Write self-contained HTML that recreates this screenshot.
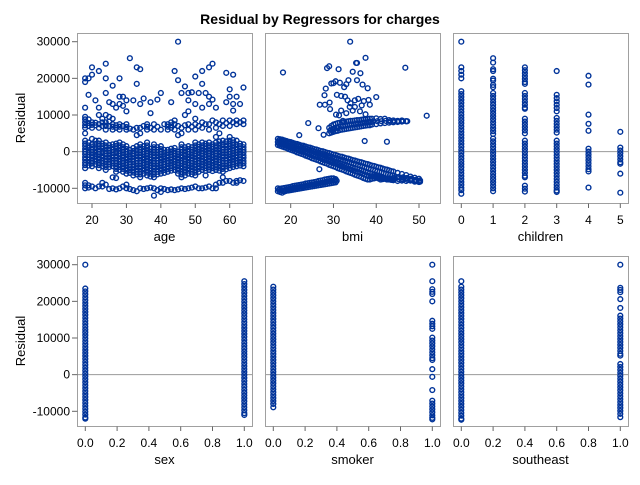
<!DOCTYPE html>
<html><head><meta charset="utf-8"><style>
body{margin:0;background:#fff;width:640px;height:480px;overflow:hidden}
svg text{font-family:"Liberation Sans",sans-serif;fill:#000}
</style></head><body>
<svg id="c" width="640" height="480" xmlns="http://www.w3.org/2000/svg">
<text x="320" y="24" text-anchor="middle" font-size="14" font-weight="bold">Residual by Regressors for charges</text>
</svg>
<script>
// residuals in thousands
const yTicks=[30,20,10,0,-10];
const yTickLabels=["30000","20000","10000","0","-10000"];
const ageTicks=[20,30,40,50,60];
const bmiTicks=[20,30,40,50];
const childTicks=[0,1,2,3,4,5];
const binTicks=[0,0.2,0.4,0.6,0.8,1.0];
const binTickLabels=["0.0","0.2","0.4","0.6","0.8","1.0"];
const ageData={
18:[-4.5,-3.7,-3,-2.2,-1.5,-0.7,0,0.7,1.5,2.2,3,5,6.5,7.2,8,8.8,9.5,-8.5,-9.2,-10,12,19,20],
19:[-3.8,-3,-2.2,-1.5,-0.8,0,1,1.7,2.5,7,7.8,8.8,-9.2,-9.8,20,15.5],
20:[-4,-3.2,-2.5,-1.7,-1,-0.2,0.5,1.2,2,3.5,6.5,7.3,8,-9.5,23,21],
21:[-3.5,-2.7,-2,-1.2,-0.3,0.4,1.2,2.1,3,7.2,7.9,-10,14],
22:[-4.5,-3.7,-3,-2.2,-1.5,-0.7,0,0.7,1.5,2.2,3,6.5,7.5,10,-9.5,22,12],
23:[-4,-3.2,-2.5,-1.7,-1,-0.1,0.8,1.5,2.2,7,8,9,-8.5,-9.5],
24:[-5,-4.2,-3.5,-2.7,-2,-1.2,-0.5,0.2,1,1.7,2.5,6,7,8,10,-9,24,16,20],
25:[-4.2,-3.5,-2.8,-2,-1.2,-0.4,0.3,1,1.8,7,8.2,9.5,-10.2,13.5],
26:[-4,-3.2,-2.5,-1.7,-1,-0.2,0.5,1.2,2,6,6.8,7.5,9,-10,-7,18,13],
27:[-5.5,-4.7,-4,-3.2,-2.5,-1.7,-1,-0.1,0.8,1.5,2.2,6.5,7.2,-10.3,12,-7.2],
28:[-5,-4.2,-3.5,-2.7,-2,-1.2,-0.5,0.2,1,1.7,2.5,6,6.8,7.5,-10,20,15,13],
29:[-5.5,-4.7,-4,-3.2,-2.5,-1.7,-1,-0.2,0.5,1.2,2,7,-9.5,12.5,15],
30:[-6,-5.2,-4.5,-3.7,-3,-2.2,-1.5,-0.7,0,0.7,1.5,6,6.7,7.5,-10,-9,11,14],
31:[-5.8,-5,-4.2,-3.5,-2.8,-2,-1.2,-0.3,0.5,6.3,-10.2,25.5],
32:[-6.5,-5.7,-5,-4.2,-3.5,-2.7,-2,-1.2,-0.5,0.2,1,6,-10.5,14],
33:[-6.2,-5.5,-4.8,-4,-3.2,-2.5,-1.8,-1,-0.2,0.6,1.5,4.5,6.5,-10.8,23,18.5],
34:[-7,-6.2,-5.5,-4.7,-4,-3.2,-2.5,-1.7,-1,-0.2,0.5,1.2,2,5,6.5,-10,22.5,13],
35:[-6,-5.2,-4.5,-3.7,-3,-2.2,-1.5,-0.7,0,0.7,1.5,7,-10.2,14.5],
36:[-6.5,-5.7,-5,-4.2,-3.5,-2.7,-2,-1.2,-0.5,0.2,1,1.7,2.5,6,6.8,7.5,-10],
37:[-6.8,-6,-5.2,-4.5,-3.8,-3,-2.2,-1.5,-0.8,0,0.8,6.5,10.5,13.5,-9.8],
38:[-7,-6.2,-5.5,-4.7,-4,-3.2,-2.5,-1.7,-1,-0.2,0.5,1.2,2,6,-12,-10,7.5],
39:[-6.2,-5.5,-4.8,-4,-3.2,-2.5,-1.8,-1,-0.2,0.5,1.2,6.8,14.2,-10.5],
40:[-6,-5.2,-4.5,-3.7,-3,-2.2,-1.5,-0.7,0,0.7,1.5,6,-10,-11,16],
41:[-5.8,-5,-4.2,-3.5,-2.8,-2,-1.2,-0.3,0.5,7.5,-10.2],
42:[-5.5,-4.7,-4,-3.2,-2.5,-1.7,-1,-0.2,0.5,6,6.8,7.5,-10.5],
43:[-5.2,-4.5,-3.8,-3,-2.2,-1.5,-0.8,0,0.8,6.5,7.2,8,-10.3,13.5],
44:[-5,-4.2,-3.5,-2.7,-2,-1.2,-0.5,0.2,1,6,7.5,8.5,-10.5,22],
45:[-6,-5.2,-4.5,-3.7,-3,-2.2,-1.5,-0.7,0,4.5,7,30,19.5,-10.3],
46:[-7,-6.2,-5.5,-4.7,-4,-3.2,-2.5,-1.7,-1,-0.2,0.5,1.2,2,5,6.5,-10,16],
47:[-6.5,-5.7,-5,-4.2,-3.5,-2.7,-2,-1.1,-0.3,0.4,1.2,7.2,17.8,-10.2,10],
48:[-6,-5.2,-4.5,-3.7,-3,-2.2,-1.5,-0.7,0,0.7,1.5,6,7.5,-10,11,14,16],
49:[-6.2,-5.5,-4.8,-4,-3.2,-2.5,-1.8,-1,-0.2,0.5,1.2,6.8,16.2,-9.8],
50:[-6.5,-5.7,-5,-4.2,-3.5,-2.7,-2,-1.2,-0.5,0.2,1,1.7,2.5,6,7.5,9,-9.5,20.5,13],
51:[-5.5,-4.7,-4,-3.2,-2.5,-1.7,-1,-0.2,0.6,1.3,2,7,-10,16],
52:[-5,-4.2,-3.5,-2.7,-2,-1.2,-0.5,0.2,1,1.7,2.5,6.5,8,-10,22,18.5,12],
53:[-5.2,-4.5,-3.8,-3,-2.2,-1.5,-0.8,0,0.8,1.5,2.2,7.5,-9.8,16,-6.5],
54:[-5,-4.2,-3.5,-2.7,-2,-1.2,-0.5,0.2,1,1.7,2.5,6,7.5,-9.5,23,15,13],
55:[-5.3,-4.5,-3.8,-3,-2.3,-1.5,-0.8,0,0.8,1.4,2,8.5,-10,24,14.2],
56:[-5,-4.2,-3.5,-2.7,-2,-1.2,-0.5,0.2,1,1.7,2.5,4,6.5,8,-10,-9,12],
57:[-5.2,-4.4,-3.6,-2.9,-2.2,-1.4,-0.6,0.2,1,1.9,2.8,7.5,-8.5,5],
58:[-5.5,-4.7,-4,-3.2,-2.5,-1.7,-1,-0.2,0.5,1.2,2,3,7,8.5,-7,-8.5],
59:[-4.8,-4,-3.2,-2.5,-1.8,-1,-0.2,0.5,1.3,2,2.8,7.8,-8,13.5,21.5],
60:[-4.5,-3.7,-3,-2.2,-1.5,-0.7,0,0.7,1.5,2.2,3,4,7,8.5,-8,17,15],
61:[-4.2,-3.5,-2.8,-2,-1.2,-0.4,0.3,1,1.8,2.5,3.2,8,-8.5,21,13,11.2],
62:[-4,-3.2,-2.5,-1.7,-1,-0.2,0.5,1.2,2,3,7.5,8.5,-8,-8.5,15],
63:[-3.8,-3,-2.2,-1.5,-0.8,0,0.8,1.5,2.2,8,-7.8,13],
64:[-4,-3.2,-2.5,-1.7,-1,-0.2,0.5,1.2,2,7.5,8.5,-8,17.5]};
const bmiX=[17,17.5,18,18.5,19,19.5,20,20.5,21,21.5,22,22.5,23,23.5,24,24.5,25,25.5,26,26.5,27,27.5,28,28.5,29,29.5,30,30.5,31,31.5,32,32.5,33,33.5,34,34.5,35,35.5,36,36.5,37,37.5,38,38.5,39,39.5,40,40.5,41,41.5,42,42.5,43,43.5,44,45,46,47,48,49,50];
const bmiBandHi=[3.5,3.4,3.3,3.1,2.9,2.7,2.6,2.4,2.2,2.1,1.9,1.7,1.6,1.4,1.2,1.1,0.9,0.7,0.6,0.4,0.2,0.1,-0.1,-0.3,-0.4,-0.6,-0.8,-0.9,-1.1,-1.3,-1.4,-1.6,-1.8,-1.9,-2.1,-2.3,-2.4,-2.6,-2.8,-2.9,-3.1,-3.3,-3.4,-3.6,-3.8,-3.9,-4.1,-4.3,-4.4,-4.6,-4.8,-4.9,-5.1,-5.3,-5.4,-5.8,-6.1,-6.4,-6.8,-7.1,-7.4];
const bmiBandMid=[2.6,2.5,2.3,2.1,1.9,1.7,1.5,1.3,1.1,0.9,0.7,0.5,0.3,0.1,-0.1,-0.3,-0.5,-0.7,-0.9,-1.1,-1.3,-1.5,-1.7,-1.9,-2.1,-2.3,-2.5,-2.7,-2.9,-3.1,-3.3,-3.5,-3.7,-3.9,-4.1,-4.3,-4.5,-4.7,-4.9,-5.1,-5.3,-5.5,-5.7,-5.9,-6.1,-6.3,-6.5,-6.7,-6.9,-7.1,-7.3,-7.5,-7.6,-7.7,-7.8,-8,-7.9,-8,-7.9,-8.2,-8.3];
const bmiBandLo=[1.8,1.6,1.4,1.2,1,0.7,0.5,0.3,0.1,-0.2,-0.4,-0.6,-0.8,-1.1,-1.3,-1.5,-1.8,-2,-2.2,-2.4,-2.7,-2.9,-3.1,-3.3,-3.6,-3.8,-4,-4.2,-4.5,-4.7,-4.9,-5.1,-5.4,-5.6,-5.8,-6,-6.3,-6.5,-6.7,-6.9,-7.2,-7.4,-7.6,-7.6,-7.4,-7.3,-7.1,-7.3,-7.6,-7.5,-7.4,-7.6,-7.3,-7.5,-7.2,-7,-7.4,-7.2,-7.6,-7.9,-8.1];
const bmiUpX=[29,29.5,30,30.5,31,31.5,32,32.5,33,33.5,34,34.5,35,35.5,36,36.5,37,37.5,38,38.5,39,40,41,42,43,44,45,46,47];
const bmiUpHi=[6.5,7,7.4,7.6,7.8,7.9,8,8.1,8.2,8.3,8.4,8.4,8.5,8.6,8.6,8.7,8.8,8.8,8.9,9,9,9.1,8.9,9,8.6,8.5,8.4,8.5,8.3];
const bmiUpLo=[5,5.2,5.4,5.6,5.7,5.9,6,6.1,6.2,6.3,6.4,6.5,6.6,6.7,6.8,6.9,7,7.1,7.2,7.2,7.4,7.5,7.7,7.8,7.9,8,8.1,8.2,8.3];
const bmiLowX=[17,17.5,18,18.5,19,19.5,20,20.5,21,21.5,22,22.5,23,23.5,24,24.5,25,25.5,26,26.5,27,27.5,28,28.5,29,29.5,30,30.5];
const bmiLowHi=[-10,-10.1,-10,-9.9,-9.8,-9.7,-9.6,-9.4,-9.3,-9.2,-9.1,-9,-8.9,-8.7,-8.6,-8.5,-8.4,-8.3,-8.2,-8,-7.9,-7.8,-7.6,-7.5,-7.4,-7.3,-7.3,-7.5];
const bmiLowLo=[-10.8,-11,-11.2,-10.9,-10.7,-10.6,-10.5,-10.4,-10.3,-10.2,-10.1,-10,-9.9,-9.8,-9.7,-9.6,-9.5,-9.4,-9.3,-9.2,-9.1,-9,-8.9,-8.8,-8.7,-8.6,-8.5,-8.4];
const bmiScatter=[[33.9,30],[18.2,21.6],[37.5,25.6],[46.8,22.9],[51.8,9.8],[28.5,22.8],[29,23.3],[31.2,22.5],[35.3,24.2],[35.5,24.2],[34.5,21.8],[36.3,21.4],[28.2,17.2],[29.5,18.6],[30,18.7],[30.5,19.2],[31.5,18.8],[32.5,17.6],[33,18.4],[33.5,19.5],[35.5,19.5],[36.8,18.3],[38,17.3],[40,14.9],[30.8,15.5],[31.8,15.2],[32.7,15],[33.3,14],[34,13.2],[35,14],[35.8,14.4],[36.6,12.6],[37.1,13.8],[38.2,14.1],[38.5,12.8],[26.8,12.8],[28,12.8],[29.2,11.6],[30.6,10.1],[31.3,9.9],[32.2,8.4],[33,10.5],[34.5,11.2],[35,12.2],[36.2,11],[37.5,10.2],[24.1,7.8],[26.5,6.4],[27.7,4.6],[29.8,5.8],[22,4.5],[31,6.4],[37.3,2.9],[42.5,2.7],[26.7,-4.8],[31.8,11.2],[33.8,12.2],[29.1,13.4],[27.9,15.4]];
const chX=[0,1,2,3,4,5];
const ch0=[30,23,22,21,20,16.5,15.7,14.9,14.1,13.3,12.5,11.7,10.9,10.1,9.3,8.5,7.7,6.9,6.1,5.3,4.5,3.7,2.9,2.1,1.3,0.5,-0.3,-1.1,-1.9,-2.7,-3.5,-4.3,-5.1,-5.9,-6.7,-7.5,-8.3,-9.1,-9.9,-10.5,-11.5];
const ch1=[25.5,24.3,22.5,22,19.9,19.4,18.2,17.6,16,15.2,14.4,13.6,12.8,12,11.2,10.4,9.6,8.8,8,7.2,6.4,5.6,4.8,3.6,2.8,2,1.2,0.4,-0.4,-1.2,-2,-2.8,-3.6,-4.4,-5.2,-6,-6.8,-7.6,-8.4,-9.2,-10,-10.8];
const ch2=[23,22.2,21.4,20.6,19.8,19,18.5,16,15.2,14.4,13.6,12.8,12,11.7,9,8.2,7.4,6.6,5.8,5,3,2.2,1.4,0.6,-0.2,-1,-1.8,-2.6,-3.4,-4.2,-5,-5.8,-6.6,-7,-9.3,-10.1,-10.9];
const ch3=[22,15.5,14.6,13.7,12.8,11.9,11,9.2,8.4,7.6,6.8,6,5.2,3,2.2,1.4,0.6,-0.2,-1,-1.8,-2.6,-3.4,-4.2,-5,-5.8,-6.6,-7.4,-8.2,-9,-9.8,-10.6,-11];
const ch4=[20.7,18.3,10.1,7.6,5.7,0.8,0,-0.8,-1.6,-2.4,-3.2,-4,-4.8,-5.4,-9.8];
const ch5=[5.4,1.1,0.3,-0.5,-1.3,-2.1,-2.9,-3.3,-6,-11.2];
const sex0=[30,23.5,22.7,21.9,21.1,20.3,19.5,18.7,17.9,17.1,16.3,15.5,14.7,13.9,13.1,12.3,11.5,10.7,9.9,9.1,8.3,7.5,6.7,5.9,5.1,4.3,3.5,2.7,1.9,1.1,0.3,-0.5,-1.3,-2.1,-2.9,-3.7,-4.5,-5.3,-6.1,-6.9,-7.7,-8.5,-9.3,-10.1,-10.9,-11.7,-12];
const sex1=[25.5,24.7,23.9,23.1,22.3,21.5,20.7,19.9,19.1,18.3,17.5,16.7,15.9,15.1,14.3,13.5,12.7,11.9,11.1,10.3,9.5,8.7,7.9,7.1,6.3,5.5,4.7,3.9,3.1,2.3,1.5,0.7,-0.1,-0.9,-1.7,-2.5,-3.3,-4.1,-4.9,-5.7,-6.5,-7.3,-8.1,-8.9,-9.7,-10.5,-11];
const smk0=[24,23.2,22.4,21.6,20.8,20,19.2,18.4,17.6,16.8,16,15.2,14.4,13.6,12.8,12,11.2,10.4,9.6,8.8,8,7.2,6.4,5.6,4.8,4,3.2,2.4,1.6,0.8,0,-0.8,-1.6,-2.4,-3.2,-4,-4.8,-5.6,-6.4,-7.2,-8,-8.9];
const smk1=[30,25.5,23.3,22.6,22,20,14.7,13.9,13.2,12.5,10.1,9.3,8.5,7.7,6.9,6.1,5.3,4.5,4,1.5,-0.6,-4.2,-7.1,-7.9,-8.7,-9.5,-10.3,-11.1,-11.8,-12.2];
const se0=[25.5,24,23.2,22.4,21.6,20.8,20,19.2,18.4,17.6,16.8,16,15.2,14.4,13.6,12.8,12,11.2,10.4,9.6,8.8,8,7.2,6.4,5.6,4.8,4,3.2,2.4,1.6,0.8,0,-0.8,-1.6,-2.4,-3.2,-4,-4.8,-5.6,-6.4,-7.2,-8,-8.8,-9.6,-10.4,-11.2,-12,-12.3];
const se1=[30,23.7,23.1,22.5,20.6,18.2,16.1,15.3,14.5,13.7,12.9,12.1,11.3,10.5,9.7,8.9,8.1,7.3,6.5,5.7,5.2,2.9,2.1,1.3,0.5,-0.3,-1.1,-1.9,-2.7,-3.5,-4.3,-5.1,-5.9,-6.7,-7.5,-8.3,-9.1,-9.9,-10.7,-11.6];

const NS="http://www.w3.org/2000/svg";
const svg=document.getElementById('c');
function mk(tag,attrs,parent){const e=document.createElementNS(NS,tag);for(const k in attrs)e.setAttribute(k,attrs[k]);(parent||svg).appendChild(e);return e;}
const W=175,H=170;
function panel(px,py,name,xmin,xmax,xlo,xhi,ticks,tickLabels,label,showY){
  const g=mk('g',{});
  
  
  const xs=v=>px+xlo+(v-xmin)/(xmax-xmin)*(xhi-xlo);
  const ys=v=>py+8.7+(30-v)/40*146.6;
  const zl=mk('line',{x1:px,x2:px+W,y1:ys(0),y2:ys(0),stroke:'#999','stroke-width':1},g);
  
  
  const fr=mk('rect',{x:px+0.5,y:py+0.5,width:W,height:H,fill:'none',stroke:'#a0a0a0','stroke-width':1},g);
  
  
  ticks.forEach((t,i)=>{
    const x=xs(t);
    mk('line',{x1:x,x2:x,y1:py+H+0.5,y2:py+H+5,stroke:'#666'},g);
    const tx=mk('text',{x:x,y:py+H+21,'text-anchor':'middle','font-size':12,fill:'#000'},g);
    tx.textContent=tickLabels[i];
    
    
  });
  const al=mk('text',{x:px+W/2,y:py+H+38,'text-anchor':'middle','font-size':13},g);
  al.textContent=label;
  
  
  if(showY){
    yTicks.forEach((t,i)=>{
      const y=ys(t);
      mk('line',{x1:px-5,x2:px+0.5,y1:y,y2:y,stroke:'#666'},g);
      const tx=mk('text',{x:px-7,y:y+4,'text-anchor':'end','font-size':12},g);
      tx.textContent=yTickLabels[i];
      
      
    });
    const yl=mk('text',{x:0,y:0,'text-anchor':'middle','font-size':13,transform:`translate(25,${py+H/2}) rotate(-90)`},g);
    yl.textContent='Residual';
    
    
  }
  const pg=mk('g',{fill:'none',stroke:'#003399','stroke-width':1.4},g);
  
  
  return (xv,yv)=>{const c=mk('circle',{cx:xs(xv),cy:ys(yv),r:2.4},pg);
    
    };
}
const py1=33,py2=256,px=[77,265,453];
let pt=panel(px[0],py1,'age',20,60,15,152.7,ageTicks,ageTicks.map(String),'age',true);
for(const a in ageData)ageData[a].forEach(r=>pt(+a,r));
pt=panel(px[1],py1,'bmi',20,50,25.7,154,bmiTicks,bmiTicks.map(String),'bmi',false);
bmiX.forEach((b,i)=>{pt(b,bmiBandHi[i]);pt(b,bmiBandMid[i]);pt(b,bmiBandLo[i]);pt(b+0.25,(bmiBandHi[i]+bmiBandMid[i])/2);pt(b+0.25,(bmiBandMid[i]+bmiBandLo[i])/2);});
bmiUpX.forEach((b,i)=>{pt(b,bmiUpHi[i]);pt(b,bmiUpLo[i]);pt(b+0.25,(bmiUpHi[i]+bmiUpLo[i])/2);});
bmiLowX.forEach((b,i)=>{pt(b,bmiLowHi[i]);pt(b,bmiLowLo[i]);pt(b+0.25,(bmiLowHi[i]+bmiLowLo[i])/2);});
bmiScatter.forEach(p=>pt(p[0],p[1]));
pt=panel(px[2],py1,'children',0,5,8.3,167.3,childTicks,childTicks.map(String),'children',false);
[ch0,ch1,ch2,ch3,ch4,ch5].forEach((col,i)=>col.forEach(r=>pt(chX[i],r)));
const bins=[['sex',sex0,sex1],['smoker',smk0,smk1],['southeast',se0,se1]];
bins.forEach((b,i)=>{
  const p=panel(px[i],py2,b[0],0,1,8.3,167.3,binTicks,binTickLabels,b[0],i===0);
  b[1].forEach(r=>p(0,r));b[2].forEach(r=>p(1,r));
});
</script>
</body></html>
